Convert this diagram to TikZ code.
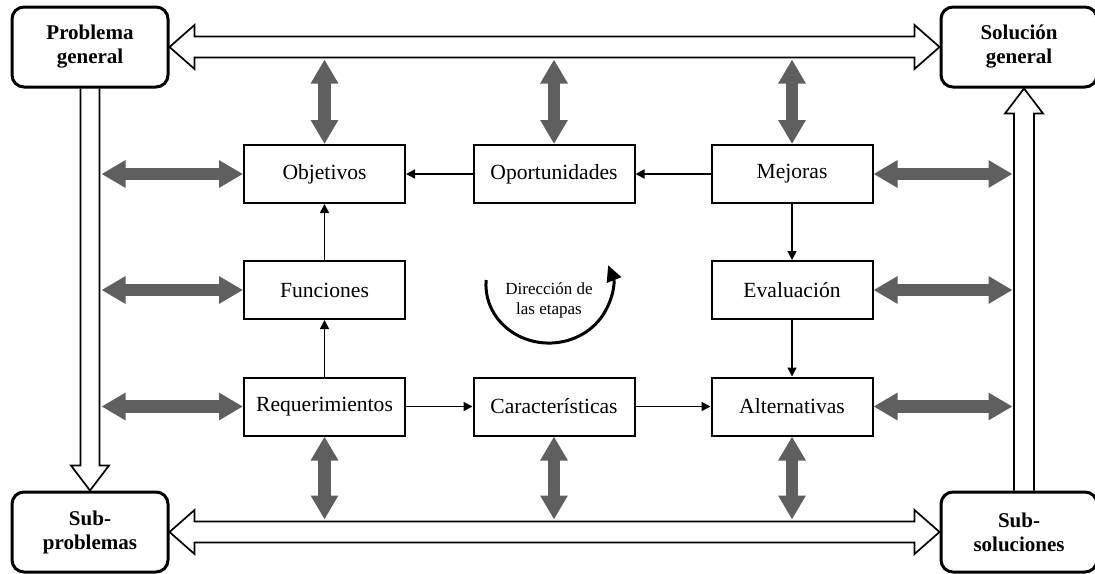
\documentclass[tikz,border=0pt]{standalone}
\usepackage{fontspec}
\setmainfont{Liberation Serif}
\usetikzlibrary{arrows.meta,calc,backgrounds}
\definecolor{linkgray}{HTML}{5F5F5F}

% Wide hollow arrow with a head at both ends, between two points at the same height
\newcommand\hollowpair[2]{%
  \filldraw[hollow] (#1) -- ($(#1)+(25,-22)$) -- ($(#1)+(25,-10.5)$)
    -- ($(#2)+(-25,-10.5)$) -- ($(#2)+(-25,-22)$) -- (#2)
    -- ($(#2)+(-25,22)$) -- ($(#2)+(-25,10.5)$)
    -- ($(#1)+(25,10.5)$) -- ($(#1)+(25,22)$) -- cycle;}

\begin{document}
\begin{tikzpicture}[x=0.5pt,y=-0.5pt,
  stage/.style={draw, line width=1pt, minimum width=80.5pt, minimum height=29pt,
    inner sep=0pt, font=\fontsize{10.8}{13}\selectfont},
  endbox/.style={draw, line width=1.5pt, rounded corners=6pt, minimum width=78pt,
    minimum height=40pt, inner sep=0pt, align=center,
    font=\fontsize{10.5}{12}\selectfont\bfseries},
  flow/.style={line width=0.75pt, -{Triangle[length=4.5pt,width=4.5pt]}},
  link/.style={linkgray, line width=6.25pt,
    {Triangle[length=12pt,width=13pt]}-{Triangle[length=12pt,width=13pt]}},
  hollow/.style={fill=white, draw=black, line width=0.85pt, line join=miter},
  cycle arrow/.style={line width=1.5pt, -{Triangle[length=8pt,width=7.5pt]}}]

\useasboundingbox (0,0) rectangle (1095,573);

% corner boxes
\node[endbox] (pg) at (90,47)   {Problema\\general};
\node[endbox] (sg) at (1019,47) {Solución\\general};
\node[endbox] (sp) at (90,532)  {Sub-\\problemas};
\node[endbox] (ss) at (1019,532){Sub-\\soluciones};

% stages
\node[stage] (obj) at (324.5,174) {Objetivos};
\node[stage] (op)  at (554,174)   {Oportunidades};
\node[stage] (mej) at (792,174)   {Mejoras};
\node[stage] (fun) at (324.5,290) {Funciones};
\node[stage] (eva) at (792,290)   {Evaluación};
\node[stage] (req) at (324.5,406.5) {Requerimientos};
\node[stage] (car) at (554,406.5) {Características};
\node[stage] (alt) at (792,406.5) {Alternativas};

% flow between stages
\draw[flow] (op)  -- (obj);
\draw[flow] (mej) -- (op);
\draw[flow] (fun) -- (obj);
\draw[flow] (req) -- (fun);
\draw[flow] (req) -- (car);
\draw[flow] (car) -- (alt);
\draw[flow] (mej) -- (eva);
\draw[flow] (eva) -- (alt);

% wide hollow arrows around the frame
\begin{scope}[on background layer]
  \hollowpair{pg.east}{sg.west}
  \hollowpair{sp.east}{ss.west}
  \filldraw[hollow] ($(pg.south)+(-9.5,0)$) -- ($(sp.north)+(-9.5,-25)$)
    -- ($(sp.north)+(-19,-25)$) -- (sp.north) -- ($(sp.north)+(19,-25)$)
    -- ($(sp.north)+(9.5,-25)$) -- ($(pg.south)+(9.5,0)$);
  \filldraw[hollow] ($(ss.north)+(-5,0)$) -- ($(sg.south)+(-5,25)$)
    -- ($(sg.south)+(-14,25)$) -- ($(sg.south)+(5,0)$) -- ($(sg.south)+(24,25)$)
    -- ($(sg.south)+(15,25)$) -- ($(ss.north)+(15,0)$);
\end{scope}

% edges of the frame arrows
\coordinate (railL) at ($(pg.south)+(11.5,0)$);
\coordinate (railR) at ($(sg.south)+(-6.5,0)$);
\coordinate (railT) at ($(pg.east)+(0,12.5)$);
\coordinate (railB) at ($(sp.east)+(0,-12.5)$);

% grey two-way links
\foreach \n in {obj,op,mej} \draw[link] (\n.north |- railT) -- (\n.north);
\foreach \n in {req,car,alt} \draw[link] (\n.south) -- (\n.south |- railB);
\foreach \n in {obj,fun,req} \draw[link] (\n.west -| railL) -- (\n.west);
\foreach \n in {mej,eva,alt} \draw[link] (\n.east) -- (\n.east -| railR);

% direction of the stages
\node[font=\fontsize{8.5}{10}\selectfont, align=center, inner sep=0pt] (dir) at (549,300)
  {Dirección de\\las etapas};
\draw[cycle arrow] ($(dir)+(-62.8,-20)$)
  arc[start angle=185, end angle=-20, x radius=63, y radius=58];

\end{tikzpicture}
\end{document}
